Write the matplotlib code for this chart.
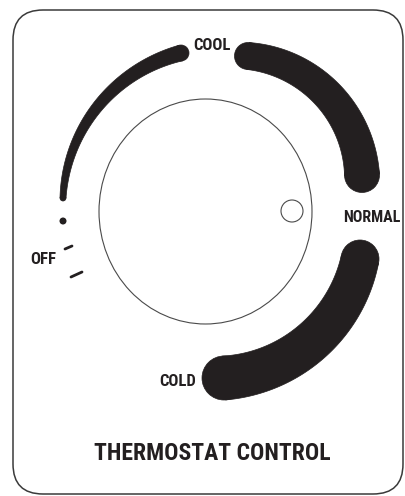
import numpy as np
import matplotlib
matplotlib.use('Agg')
import matplotlib.pyplot as plt
from matplotlib.patches import FancyBboxPatch, Ellipse, Circle, Polygon

# dial segments: three centre-line points each (start, middle, end) and widths
seg_start = [(63, 198), (248, 56), (360, 259)]
seg_mid = [(95, 110), (340, 110), (310, 343)]
seg_end = [(181, 53), (362, 175), (224, 378)]
seg_w0 = [6, 27, 38]
seg_w1 = [16, 35, 44]

# OFF position marks
dot_xy = (63, 221)
dash_from = [(65, 249), (71, 277)]
dash_to = [(72, 246), (82, 272)]

labels = ['COOL', 'NORMAL', 'OFF', 'COLD']
label_x = [212, 372, 43, 178]
label_y = [46, 218, 260, 382]
title = 'THERMOSTAT CONTROL'

ink = '#231f20'
font = ['Roboto Condensed', 'DejaVu Sans']


def circle_through(a, b, c):
    ax, ay = a
    bx, by = b
    cx, cy = c
    d = 2 * (ax * (by - cy) + bx * (cy - ay) + cx * (ay - by))
    ux = ((ax**2 + ay**2) * (by - cy) + (bx**2 + by**2) * (cy - ay) + (cx**2 + cy**2) * (ay - by)) / d
    uy = ((ax**2 + ay**2) * (cx - bx) + (bx**2 + by**2) * (ax - cx) + (cx**2 + cy**2) * (bx - ax)) / d
    return np.array([ux, uy]), np.hypot(ax - ux, ay - uy)


def band(ax, p0, pm, p1, w0, w1, n=150):
    cen, r = circle_through(p0, pm, p1)
    ang = lambda p: np.arctan2(p[1] - cen[1], p[0] - cen[0])
    a0, am, a1 = ang(p0), ang(pm), ang(p1)
    d = (a1 - a0) % (2 * np.pi)
    if (am - a0) % (2 * np.pi) > d:
        d -= 2 * np.pi
    t = np.linspace(0, 1, n)
    th = a0 + t * d
    w = w0 + t * (w1 - w0)
    u = np.column_stack([np.cos(th), np.sin(th)])
    outer = cen + (r + w / 2)[:, None] * u
    inner = cen + (r - w / 2)[:, None] * u
    ax.add_patch(Polygon(np.vstack([outer, inner[::-1]]), closed=True,
                         fc=ink, ec=ink, lw=0.5))
    for p, ww in [(p0, w0), (p1, w1)]:
        ax.add_patch(Circle(p, ww / 2, fc=ink, ec=ink, lw=0.5))


fig = plt.figure(figsize=(4.05, 4.96), dpi=100)
ax = fig.add_axes([0, 0, 1, 1])
ax.set_xlim(0, 405)
ax.set_ylim(496, 0)
ax.axis('off')

# outer rounded frame
ax.add_patch(FancyBboxPatch((13, 10), 390, 484,
                            boxstyle='round,pad=0,rounding_size=30',
                            fc='white', ec='#3a3a3a', lw=1.1))

# knob
ax.add_patch(Ellipse((205.5, 211.5), 213, 225, fc='none', ec='#4a4a4a', lw=0.8))
ax.add_patch(Circle((292, 211), 11, fc='white', ec='#4a4a4a', lw=0.8))

for i in range(len(seg_start)):
    band(ax, seg_start[i], seg_mid[i], seg_end[i], seg_w0[i], seg_w1[i])

ax.add_patch(Circle(dot_xy, 3.5, fc=ink, ec='none'))
for (x0, y0), (x1, y1) in zip(dash_from, dash_to):
    ax.plot([x0, x1], [y0, y1], color=ink, lw=2.0, solid_capstyle='round')

sizes = [12, 11.5, 12, 12]
for s, x, y, fs in zip(labels, label_x, label_y, sizes):
    ax.text(x, y, s, ha='center', va='center', fontsize=fs,
            fontweight='bold', family=font, color=ink)

ax.text(212.5, 454, title, ha='center', va='center', fontsize=17,
        fontweight='bold', family=font, color=ink)

fig.savefig('out.png', dpi=100)
